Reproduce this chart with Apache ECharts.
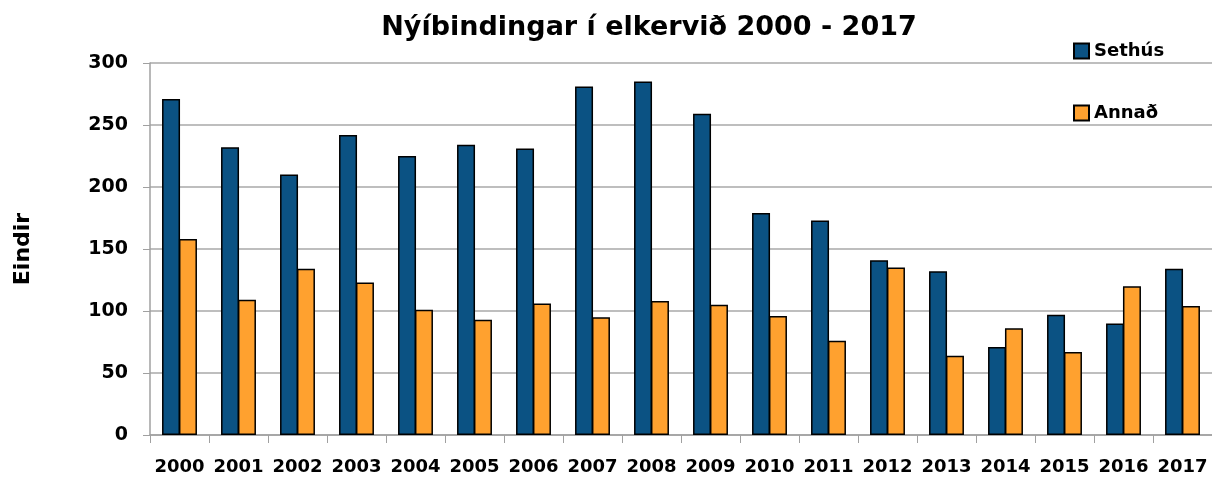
<!DOCTYPE html>
<html lang="is">
  <head>
    <meta charset="UTF-8" />
    <title>Nýíbindingar í elkervið 2000 - 2017</title>
    <style>
      html, body { margin: 0; padding: 0; background: #fff; }
      #main { width: 1212px; height: 480px; }
    </style>
  </head>
  <body>
    <div id="main"></div>
    <script src="https://cdn.jsdelivr.net/npm/echarts@6/dist/echarts.min.js"></script>
    <script>
      // ár og gildi lesin af myndinni
      var years = ['2000', '2001', '2002', '2003', '2004', '2005', '2006', '2007', '2008',
        '2009', '2010', '2011', '2012', '2013', '2014', '2015', '2016', '2017'];
      var sethus = [271, 232, 210, 242, 225, 234, 231, 281, 285, 259, 179, 173, 141, 132, 71, 97, 90, 134];
      var annad = [158, 109, 134, 123, 101, 93, 106, 95, 108, 105, 96, 76, 135, 64, 86, 67, 120, 104];

      var font = '"DejaVu Sans", sans-serif';
      var myChart = echarts.init(document.getElementById('main'));
      var option = {
        animation: false,
        textStyle: { fontFamily: font },
        title: {
          text: 'Nýíbindingar í elkervið 2000 - 2017',
          left: 644,
          top: 9,
          textAlign: 'center',
          textStyle: { fontSize: 27, fontWeight: 'bold', color: '#000', fontFamily: font }
        },
        legend: {
          orient: 'vertical',
          left: 1068,
          top: 37,
          itemGap: 44,
          itemWidth: 15,
          itemHeight: 15,
          itemStyle: { borderColor: '#000', borderWidth: 2 },
          textStyle: { fontSize: 18, fontWeight: 'bold', color: '#000', fontFamily: font },
          data: [
            { name: 'Sethús', icon: 'rect' },
            { name: 'Annað', icon: 'rect' }
          ]
        },
        grid: { left: 150, top: 63, width: 1067, height: 372, containLabel: false },
        xAxis: {
          type: 'category',
          data: years,
          axisLine: { lineStyle: { color: '#a0a0a0', width: 1.5 } },
          axisTick: { show: true, length: 8, alignWithLabel: false, lineStyle: { color: '#a0a0a0' } },
          axisLabel: { fontSize: 18, fontWeight: 'bold', color: '#000', margin: 23, interval: 0, fontFamily: font }
        },
        yAxis: {
          type: 'value',
          min: 0,
          max: 300,
          interval: 50,
          name: 'Eindir',
          nameLocation: 'middle',
          nameGap: 116,
          nameTextStyle: { fontSize: 22, fontWeight: 'bold', color: '#000', fontFamily: font },
          axisLine: { show: true, lineStyle: { color: '#a0a0a0', width: 1.5 } },
          axisTick: { show: true, length: 7, lineStyle: { color: '#a0a0a0' } },
          axisLabel: { fontSize: 19, fontWeight: 'bold', color: '#000', margin: 22, fontFamily: font },
          splitLine: { lineStyle: { color: '#a8a8a8', width: 1.5 } }
        },
        series: [
          {
            name: 'Sethús',
            type: 'bar',
            data: sethus,
            barWidth: 18,
            barGap: '-6%',
            itemStyle: { color: '#0b5283', borderColor: '#000', borderWidth: 1.5 }
          },
          {
            name: 'Annað',
            type: 'bar',
            data: annad,
            barWidth: 18,
            barGap: '-6%',
            itemStyle: { color: '#ffa12f', borderColor: '#000', borderWidth: 1.5 }
          }
        ]
      };
      myChart.setOption(option);
    </script>
  </body>
</html>
